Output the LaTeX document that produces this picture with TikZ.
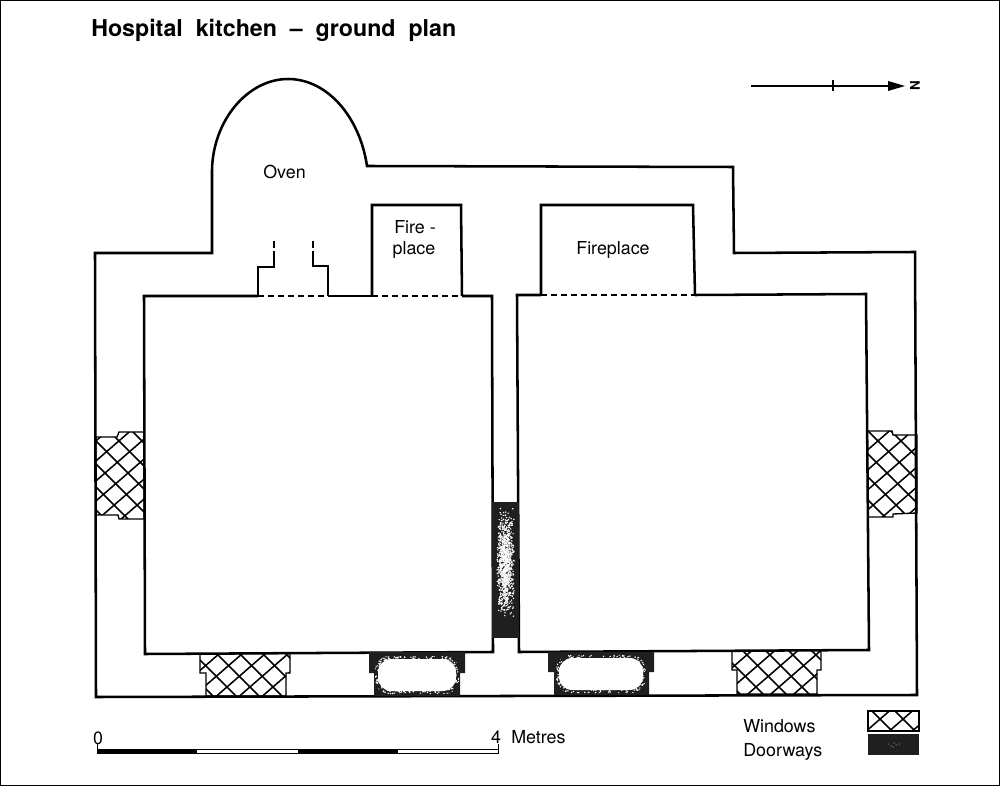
\documentclass[tikz,border=0pt]{standalone}
\usepackage{fontspec}
\setmainfont{TeX Gyre Heros}
\definecolor{doordark}{gray}{0.12}
\tikzset{
  wall/.style={line width=1.9pt,line join=miter,black},
  opening/.style={line width=0.9pt,dash pattern=on 4.5pt off 3pt,black},
  hatchline/.style={line width=1.15pt,black},
  winedge/.style={line width=1pt,black},
  label/.style={inner sep=0pt,font=\fontsize{13.4pt}{15pt}\selectfont,text=black,align=center},
}
\pgfmathsetseed{4242}
% \hatchfill{closed path}: white fill, clipped diagonal lattice, outline
\newcommand{\hatchfill}[1]{%
  \fill[white] #1;
  \begin{scope}
    \clip #1;
    \foreach \k in {-60,...,120}{
      \draw[hatchline] (\k*23,0) -- ++(1000,1000);
      \draw[hatchline] (\k*23+5,0) -- ++(-1150,1000);
    }
  \end{scope}
  \draw[winedge] #1;
}
% \doorblob{x1}{y1}{x2}{y2}: speckled pale patch with a solid core
\newcommand{\doorblob}[4]{%
  \begin{scope}
    \clip[rounded corners=11pt] (#1-1,#2-1) rectangle (#3+1,#4+1);
    \foreach \n in {1,...,520}{
      \pgfmathsetmacro{\px}{#1-1+rnd*(#3-#1+2)}
      \pgfmathsetmacro{\py}{#2-1+rnd*(#4-#2+2)}
      \fill[white] (\px,\py) circle[radius=0.8];
    }
  \end{scope}
  \fill[white,rounded corners=10pt] (#1+2,#2+2) rectangle (#3-2,#4-2);
}
\begin{document}
\begin{tikzpicture}[x=0.75pt,y=-0.75pt]
\useasboundingbox (0,0) rectangle (1000,787);
\fill[white] (0,0) rectangle (1000,787);
\draw[line width=1pt] (0.5,0.5) rectangle (999.5,785.5);

% title
\node[anchor=base west,inner sep=0pt,font=\bfseries\fontsize{17.4pt}{20pt}\selectfont] (title) at (91,37) {Hospital\ \ kitchen\ \ –\ \ ground\ \ plan};

% north arrow
\coordinate (ns) at (751,86);
\draw[line width=1pt] (ns) -- (890,86);
\draw[line width=1.1pt] (833,80.5) -- (833,91.5);
\fill (888,81) -- (905,86) -- (888,91) -- cycle;
\node[rotate=90,inner sep=0pt,font=\bfseries\fontsize{10pt}{11pt}\selectfont] (north) at (915,86) {N};

% windows
\hatchfill{(96,437) -- (117,437) -- (119,432) -- (144,432) -- (144,519) -- (119,519) -- (118,515) -- (96,515) -- cycle}
\hatchfill{(867,431) -- (892,431) -- (893,435) -- (917,435) -- (917,513) -- (893,514) -- (893,517) -- (868,517) -- cycle}
\hatchfill{(200,654) -- (290,653) -- (290,673) -- (286,673) -- (286,696) -- (206,696) -- (206,673) -- (200,673) -- cycle}
\hatchfill{(732,651) -- (821,650) -- (821,670) -- (817,670) -- (817,694) -- (737,694) -- (737,670) -- (732,670) -- cycle}

% outer walls
\draw[wall] (95,253) -- (212,253) -- (212,170)
  .. controls (213,120) and (248,79) .. (288,79)
  .. controls (328,79) and (360,118) .. (367,166)
  -- (733,167) -- (734,253) -- (915,252) -- (917,695) -- (96,697) -- cycle;

% left room
\draw[wall] (258,296) -- (144,296) -- (145,654) -- (493,652) -- (492,296) -- (462,296);
\draw[wall] (328,296) -- (372,296);
\draw[wall] (372,296) -- (372,205) -- (461,205) -- (462,296);
\draw[opening] (258,296) -- (328,296);
\draw[opening] (372,296) -- (462,296);
% oven mouth
\draw[wall] (258,296) -- (258,267) -- (274,267) -- (274,258);
\draw[wall] (328,296) -- (328,266) -- (313,266) -- (313,258);
\draw[line width=1.6pt,dash pattern=on 5pt off 2.5pt] (274,258) -- (274,240);
\draw[line width=1.6pt,dash pattern=on 5pt off 2.5pt] (313,258) -- (313,240);

% right room
\draw[wall] (541,295) -- (517,295) -- (519,652) -- (869,650) -- (866,294) -- (695,295);
\draw[wall] (541,295) -- (541,205) -- (693,205) -- (695,295);
\draw[opening] (541,295) -- (695,295);

% doorways
\fill[doordark] (492,502) rectangle (519,638);
\fill[doordark] (369,652) -- (465,652) -- (465,673) -- (460,673) -- (460,696) -- (374,696) -- (374,673) -- (369,673) -- cycle;
\fill[doordark] (548,652) -- (654,652) -- (654,672) -- (649,672) -- (649,695) -- (554,695) -- (554,672) -- (548,672) -- cycle;
\doorblob{376}{657}{458}{693}
\doorblob{557}{656}{645}{692}
\foreach \n in {1,...,1000}{
  \pgfmathsetmacro{\px}{505.5+(rnd+rnd-1)*9}
  \pgfmathsetmacro{\py}{563+(rnd+rnd-1)*56}
  \fill[white] (\px,\py) circle[radius=0.8];
}

% labels
\node[label] (oven) at (284.5,172) {Oven};
\node[label,anchor=base] (fp1) at (415,234) {Fire -};
\node[label,anchor=base] (fp2) at (414,255) {place};
\node[label] (fp3) at (613,250) {Fireplace};

% scale bar
\node[anchor=base,label] (s0) at (98,744) {0};
\node[anchor=base,label] (s4) at (496,743) {4};
\node[anchor=base west,label] (smetres) at (511,743) {Metres};
\draw[line width=0.7pt] (97,744) -- (97,753) -- (498,753) -- (498,744);
\draw[line width=0.7pt] (197,749) -- (498,749);
\fill (97,749) rectangle (197,753.4);
\fill (298,749) rectangle (398,753.4);

% legend
\node[anchor=base west,label] (lw) at (743,732) {Windows};
\node[anchor=base west,label] (ld) at (743,756) {Doorways};
\hatchfill{(868,711) -- (919,711) -- (919,731) -- (868,731) -- cycle}
\fill[doordark] (868,734) rectangle (919,755);
\foreach \p/\q in {888/744,891/746,894/743,896/745,899/744,893/747}{
  \fill[white] (\p,\q) circle[radius=0.5];
}
\end{tikzpicture}
\end{document}
